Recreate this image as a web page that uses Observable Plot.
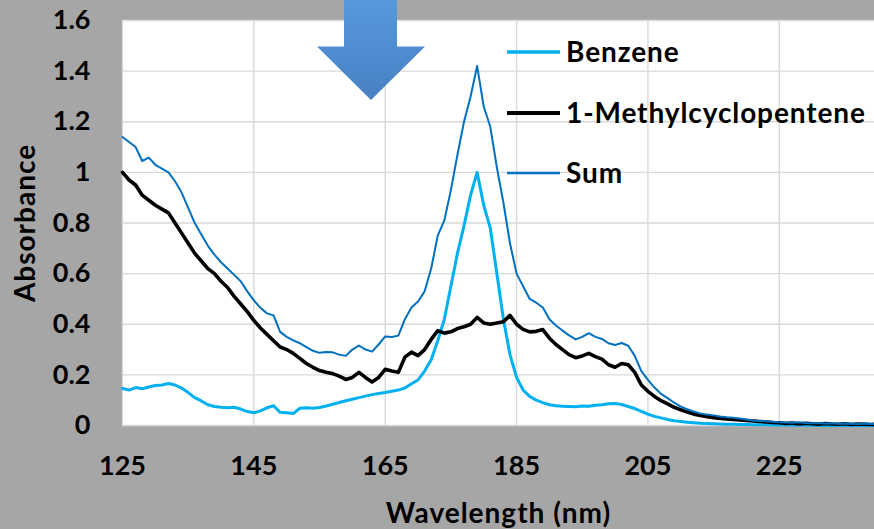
<!DOCTYPE html>
<html>
<head>
<meta charset="utf-8">
<script src="https://cdn.jsdelivr.net/npm/d3@7"></script>
<script src="https://cdn.jsdelivr.net/npm/@observablehq/plot@0.6"></script>
<style>
  html, body { margin: 0; padding: 0; background: #a6a6a6; }
  #wrap { position: relative; width: 874px; height: 529px; overflow: hidden; }
  #overlay { position: absolute; left: 0; top: 0; pointer-events: none; }
</style>
</head>
<body>
<div id="wrap"></div>
<script>
// ---- data ----
const wavelength = [125,126,127,128,129,130,131,132,133,134,135,136,137,138,139,140,141,142,143,144,145,146,147,148,149,150,151,152,153,154,155,156,157,158,159,160,161,162,163,164,165,166,167,168,169,170,171,172,173,174,175,176,177,178,179,180,181,182,183,184,185,186,187,188,189,190,191,192,193,194,195,196,197,198,199,200,201,202,203,204,205,206,207,208,209,210,211,212,213,214,215,216,217,218,219,220,221,222,223,224,225,226,227,228,229,230,231,232,233,234,235,236,237,238,239,240];

const benzene = [0.146,0.140,0.150,0.145,0.152,0.158,0.160,0.166,0.160,0.148,0.130,0.110,0.097,0.082,0.075,0.072,0.070,0.072,0.065,0.055,0.050,0.058,0.070,0.078,0.052,0.050,0.047,0.068,0.070,0.068,0.071,0.077,0.084,0.091,0.098,0.104,0.110,0.116,0.122,0.126,0.130,0.135,0.140,0.148,0.165,0.180,0.215,0.260,0.335,0.420,0.550,0.680,0.790,0.910,1.000,0.870,0.780,0.600,0.420,0.280,0.190,0.140,0.115,0.100,0.090,0.082,0.078,0.076,0.075,0.074,0.077,0.076,0.080,0.082,0.086,0.087,0.083,0.075,0.067,0.056,0.045,0.036,0.030,0.024,0.019,0.016,0.013,0.011,0.009,0.008,0.007,0.006,0.005,0.005,0.004,0.004,0.003,0.003,0.003,0.002,0.002,0.002,0.001,0.001,0.001,0.001,0.000,0.000,0.001,0.000,0.000,0.000,0.001,0.000,0.000,0.000];

const methylcyclopentene = [1.000,0.970,0.950,0.910,0.890,0.870,0.855,0.840,0.800,0.760,0.720,0.680,0.650,0.620,0.600,0.570,0.545,0.510,0.480,0.450,0.415,0.385,0.360,0.335,0.310,0.300,0.285,0.265,0.245,0.230,0.217,0.210,0.205,0.195,0.182,0.190,0.210,0.190,0.172,0.190,0.222,0.215,0.210,0.270,0.290,0.276,0.300,0.340,0.375,0.365,0.370,0.383,0.390,0.400,0.427,0.405,0.400,0.405,0.410,0.435,0.400,0.380,0.370,0.372,0.379,0.345,0.320,0.300,0.280,0.268,0.275,0.285,0.272,0.262,0.240,0.230,0.245,0.240,0.210,0.160,0.135,0.115,0.098,0.085,0.072,0.062,0.053,0.045,0.040,0.035,0.031,0.028,0.026,0.024,0.022,0.020,0.018,0.016,0.014,0.012,0.011,0.008,0.010,0.006,0.009,0.007,0.005,0.008,0.006,0.005,0.007,0.004,0.006,0.005,0.004,0.005];

const sum = [1.140,1.120,1.100,1.045,1.058,1.030,1.015,1.000,0.965,0.920,0.860,0.800,0.755,0.710,0.675,0.645,0.620,0.595,0.570,0.530,0.494,0.465,0.443,0.435,0.370,0.350,0.336,0.325,0.310,0.295,0.287,0.290,0.289,0.280,0.275,0.300,0.316,0.300,0.292,0.320,0.352,0.350,0.355,0.420,0.466,0.490,0.530,0.620,0.750,0.810,0.930,1.070,1.200,1.300,1.420,1.260,1.180,1.020,0.880,0.720,0.600,0.550,0.500,0.485,0.466,0.420,0.395,0.375,0.356,0.340,0.350,0.365,0.350,0.342,0.325,0.318,0.326,0.315,0.275,0.215,0.180,0.150,0.125,0.108,0.090,0.075,0.064,0.055,0.047,0.043,0.040,0.036,0.033,0.031,0.028,0.024,0.020,0.018,0.017,0.015,0.013,0.012,0.011,0.013,0.010,0.009,0.010,0.008,0.009,0.007,0.008,0.007,0.006,0.008,0.006,0.005];

const seriesNames = ["Benzene", "1-Methylcyclopentene", "Sum"];
const seriesColors = ["#00b0f0", "#000000", "#0070c0"];
const seriesWidths = [3, 3.6, 2];
const xTicks = [125, 145, 165, 185, 205, 225];
const yTicks = [0, 0.2, 0.4, 0.6, 0.8, 1, 1.2, 1.4, 1.6];
const xLabel = "Wavelength (nm)";
const yLabel = "Absorbance";

// ---- build table ----
const seriesValues = [benzene, methylcyclopentene, sum];
const rows = seriesNames.map((name, k) =>
  wavelength.map((w, i) => ({ w, v: seriesValues[k][i], s: name }))
);

const FONT = "Lato, 'Open Sans', sans-serif";

const chart = Plot.plot({
  width: 874,
  height: 529,
  marginLeft: 122,
  marginRight: 0,
  marginTop: 20,
  marginBottom: 104,
  style: { background: "#a6a6a6", fontFamily: FONT, fontWeight: "bold", color: "#000" },
  x: { domain: [125, 239.5] },
  y: { domain: [0, 1.6] },
  marks: [
    Plot.frame({ fill: "white", stroke: null }),
    Plot.gridX(xTicks, { stroke: "#d9d9d9", strokeOpacity: 1, strokeWidth: 1.4 }),
    Plot.gridY(yTicks, { stroke: "#d9d9d9", strokeOpacity: 1, strokeWidth: 1.4 }),
    Plot.axisX(xTicks, { tickSize: 0, tickPadding: 30, fontSize: 27, label: null, tickFormat: d => String(d) }),
    Plot.axisY(yTicks, { tickSize: 0, tickPadding: 32, fontSize: 27, label: null, tickFormat: d => String(+d.toFixed(1)) }),
    ...rows.map((r, k) => Plot.line(r, {
      x: "w", y: "v",
      stroke: seriesColors[k],
      strokeWidth: seriesWidths[k],
      strokeLinejoin: "round"
    })),
    Plot.text([yLabel], { frameAnchor: "left", dx: -96, rotate: -90, fontSize: 28, fontWeight: "bold", textAnchor: "middle", lineAnchor: "middle", text: d => d }),
    Plot.text([xLabel], { frameAnchor: "bottom", dy: 89, fontSize: 28, fontWeight: "bold", textAnchor: "middle", lineAnchor: "middle", text: d => d })
  ]
});

// slightly wider lettering for the axis titles, as in the reference
d3.select(chart).selectAll("text")
  .filter(function () { return this.textContent === xLabel || this.textContent === yLabel; })
  .style("letter-spacing", "1px");

const wrap = document.getElementById("wrap");
wrap.appendChild(chart);

// ---- overlay: arrow annotation + legend ----
const ov = d3.select(wrap).append("svg")
  .attr("id", "overlay")
  .attr("width", 874).attr("height", 529);

const grad = ov.append("defs").append("linearGradient")
  .attr("id", "arrowGrad").attr("x1", 0).attr("y1", 0).attr("x2", 0).attr("y2", 1);
grad.append("stop").attr("offset", "0%").attr("stop-color", "#5899dd");
grad.append("stop").attr("offset", "100%").attr("stop-color", "#4681c3");

ov.append("polygon")
  .attr("points", "344,-2 397,-2 397,46.5 425,46.5 371,100 317,46.5 344,46.5")
  .attr("fill", "url(#arrowGrad)");

const legendRows = [52, 113, 173];
const lg = ov.append("g").attr("font-family", FONT).attr("font-weight", "bold").attr("font-size", 28)
  .style("letter-spacing", "0.9px");
seriesNames.forEach((name, k) => {
  const y = legendRows[k];
  lg.append("line")
    .attr("x1", 507).attr("x2", 560).attr("y1", y).attr("y2", y)
    .attr("stroke", seriesColors[k]).attr("stroke-width", seriesWidths[k] + 0.5);
  lg.append("text")
    .attr("x", 566).attr("y", y).attr("dy", "0.36em")
    .attr("fill", "#000")
    .text(name);
});
</script>
</body>
</html>
